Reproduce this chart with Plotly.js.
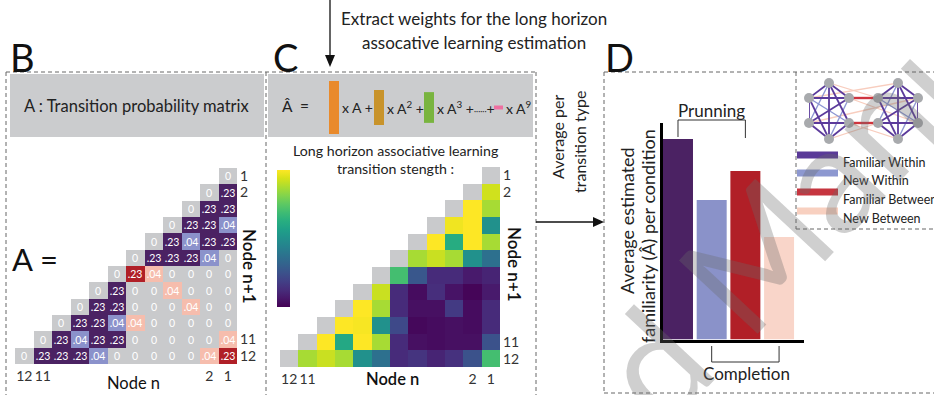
<!DOCTYPE html>
<html>
<head>
<meta charset="utf-8">
<script src="https://cdn.plot.ly/plotly-3.0.1.min.js"></script>
<style>
  html, body { margin: 0; padding: 0; background: #fff; }
  #fig { width: 934px; height: 395px; }
</style>
</head>
<body>
<div id="fig"></div>
<script>
// ---------------------------------------------------------------
// Data
// ---------------------------------------------------------------
const nodeIds   = [1, 2, 3, 4, 5, 6, 7, 8, 9, 10, 11, 12];
const community = [1, 1, 1, 1, 1, 1, 2, 2, 2, 2, 2, 2];

// One-step transition probabilities A (row = node n+1, column = node n),
// lower triangle only, column order node n = 1, 2, ...
const transitionProb = [
  [0],
  [0.23, 0],
  [0.23, 0.23, 0],
  [0.04, 0.23, 0.23, 0],
  [0.23, 0.23, 0.04, 0.23, 0],
  [0, 0.04, 0.23, 0.23, 0.23, 0],
  [0, 0, 0, 0, 0.04, 0.23, 0],
  [0, 0, 0, 0.04, 0, 0, 0.23, 0],
  [0, 0, 0.04, 0, 0, 0, 0.23, 0.23, 0],
  [0, 0, 0, 0, 0, 0.04, 0.04, 0.23, 0.23, 0],
  [0.04, 0, 0, 0, 0, 0, 0.23, 0.23, 0.04, 0.23, 0],
  [0.23, 0.04, 0, 0, 0, 0, 0, 0.04, 0.23, 0.23, 0.23, 0]
];

// Long-horizon associative strength (normalised), same layout, off-diagonal only
const longHorizonStrength = [
  [],
  [0.93],
  [0.87, 1.00],
  [0.50, 1.00, 0.98],
  [0.87, 1.00, 0.62, 1.00],
  [0.37, 0.50, 0.87, 0.92, 0.87],
  [0.10, 0.07, 0.12, 0.12, 0.27, 0.70],
  [0.07, 0.01, 0.05, 0.13, 0.03, 0.12, 0.92],
  [0.12, 0.03, 0.17, 0.04, 0.04, 0.12, 0.87, 1.00],
  [0.12, 0.03, 0.04, 0.03, 0.02, 0.22, 0.50, 0.99, 1.00],
  [0.25, 0.04, 0.04, 0.03, 0.04, 0.12, 0.87, 1.00, 0.60, 1.00],
  [0.70, 0.25, 0.14, 0.10, 0.15, 0.12, 0.37, 0.50, 0.87, 0.92, 0.87]
];

// Weights of the power series terms (A, A², A³, ..., A⁹)
const formulaWeights = [1.00, 0.66, 0.58, 0.075];
const formulaColors  = ['#E98A2C', '#C8932B', '#79B43F', '#EE6FA0'];

// Average estimated familiarity per transition type
const conditions     = ['Familiar Within', 'New Within', 'Familiar Between', 'New Between'];
const avgFamiliarity = [0.926, 0.644, 0.778, 0.473];
const barColors      = ['#4B2263', '#8A92C9', '#B11F27', '#F9D5C9'];

// Edge-type palette (matrix cells, network edges, legend swatches)
const GREY = '#C9CACC';
const cellColors  = [GREY, '#4B2263', '#8B92CB', '#B01F27', '#F6BDAD'];
const edgeColors  = ['#5B3A9B', '#8D97D3', '#CF343E', '#F8CDBE'];
const edgeWidths  = [1.8, 1.4, 2.4, 1.3];
const swatchColors = ['#5A3A98', '#8D98D0', '#C6353F', '#F8D0C0'];

// Network drawing positions (node 1..12)
const nodeX = [2, 1, 0, 0, 1, 2, 3.45, 4.45, 5.45, 5.45, 4.45, 3.45];
const nodeY = [0, -0.64, 0, 1, 1.6, 1, 1, 1.6, 1, 0, -0.64, 0];

// ---------------------------------------------------------------
// Helpers
// ---------------------------------------------------------------
const W = 934, H = 395;
const px = x => x / W;
const py = y => 1 - y / H;
const FONT = 'Lato, "Open Sans", sans-serif';
const N = nodeIds.length;

function pad(rows, fillDiag) {
  return rows.map((r, i) => {
    const out = new Array(N).fill(null);
    r.forEach((v, j) => { out[j] = v; });
    if (fillDiag !== undefined) out[i] = fillDiag;
    return out;
  });
}

// 0 = no transition, 1 = familiar within, 2 = new within, 3 = familiar between, 4 = new between
function edgeType(n, m, p) {
  if (p === null) return null;
  if (p === 0) return 0;
  const within = community[n - 1] === community[m - 1];
  const familiar = p > 0.1;
  if (within) return familiar ? 1 : 2;
  return familiar ? 3 : 4;
}

const probFull = pad(transitionProb);
const typeZ = probFull.map((row, i) => row.map((p, j) => edgeType(nodeIds[j], nodeIds[i], p)));
const probText = probFull.map(row => row.map(p => p === null ? null : (p === 0 ? '0' : String(p).replace(/^0/, ''))));

const discreteScale = [];
cellColors.forEach((c, k) => {
  discreteScale.push([k / cellColors.length, c]);
  discreteScale.push([(k + 1) / cellColors.length, c]);
});

const strengthFull = pad(longHorizonStrength);
const diagZ = nodeIds.map((_, i) => nodeIds.map((_, j) => i === j ? 1 : null));

// ---------------------------------------------------------------
// Traces
// ---------------------------------------------------------------
const traces = [];

// B : transition probability matrix
traces.push({
  type: 'heatmap', x: nodeIds, y: nodeIds, z: typeZ,
  zmin: -0.5, zmax: cellColors.length - 0.5,
  colorscale: discreteScale, showscale: false,
  text: probText, texttemplate: '%{text}',
  textfont: { family: FONT, size: 10.5, color: '#ffffff' },
  xaxis: 'x', yaxis: 'y', hoverinfo: 'skip'
});

// C : long horizon strength
traces.push({
  type: 'heatmap', x: nodeIds, y: nodeIds, z: diagZ,
  zmin: 0, zmax: 1, colorscale: [[0, GREY], [1, GREY]], showscale: false,
  xaxis: 'x2', yaxis: 'y2', hoverinfo: 'skip'
});
traces.push({
  type: 'heatmap', x: nodeIds, y: nodeIds, z: strengthFull,
  zmin: 0, zmax: 1, colorscale: 'Viridis',
  colorbar: {
    x: px(277), xanchor: 'left', y: py(170), yanchor: 'top',
    len: 137, lenmode: 'pixels', thickness: 13, thicknessmode: 'pixels',
    outlinewidth: 0, showticklabels: false, ticks: '', xpad: 0, ypad: 0
  },
  xaxis: 'x2', yaxis: 'y2', hoverinfo: 'skip'
});

// D : bar chart of average familiarity
traces.push({
  type: 'bar', x: [0, 1, 2, 3], y: avgFamiliarity, width: 0.89,
  marker: { color: barColors, line: { width: 0 } },
  xaxis: 'x3', yaxis: 'y3', hoverinfo: 'skip', showlegend: false
});

// D inset : modular graph, edges grouped by type
const edgeSets = [[], [], [], []];
probFull.forEach((row, i) => row.forEach((p, j) => {
  if (p === null || j >= i) return;
  const t = edgeType(nodeIds[j], nodeIds[i], p);
  if (t > 0) edgeSets[t - 1].push([j, i]);
}));
[3, 1, 2, 0].forEach(k => {
  const xs = [], ys = [];
  edgeSets[k].forEach(([a, b]) => { xs.push(nodeX[a], nodeX[b], null); ys.push(nodeY[a], nodeY[b], null); });
  traces.push({
    type: 'scatter', mode: 'lines', x: xs, y: ys,
    line: { color: edgeColors[k], width: edgeWidths[k] },
    xaxis: 'x4', yaxis: 'y4', hoverinfo: 'skip', showlegend: false, cliponaxis: false
  });
});
traces.push({
  type: 'scatter', mode: 'markers', x: nodeX, y: nodeY,
  marker: { size: 10, color: '#A8AAAD' },
  xaxis: 'x4', yaxis: 'y4', hoverinfo: 'skip', showlegend: false, cliponaxis: false
});

// ---------------------------------------------------------------
// Axes
// ---------------------------------------------------------------
const tickFont = { family: FONT, size: 14, color: '#333' };
function matrixAxes(x0, x1, y0, y1) {
  const xa = {
    domain: [px(x0), px(x1)], range: [12.5, 0.5], tickvals: [12, 11, 2, 1],
    ticktext: ['12', '11', '2', '1'], ticks: '', showgrid: false, zeroline: false,
    showline: false, tickfont: tickFont, ticklabelstandoff: 2
  };
  const ya = {
    domain: [py(y1), py(y0)], range: [12.5, 0.5], tickvals: [1, 2, 11, 12],
    ticktext: ['1', '2', '11', '12'], side: 'right', ticks: '', showgrid: false,
    zeroline: false, showline: false, tickfont: tickFont, ticklabelstandoff: 2
  };
  return [xa, ya];
}
const [xB, yB] = matrixAxes(15, 237, 168, 364);
const [xC, yC] = matrixAxes(280, 500, 167, 367);
xB.anchor = 'y'; yB.anchor = 'x';
xC.anchor = 'y2'; yC.anchor = 'x2';

const barRange = [-0.445, 3.74];
const barDom = [663, 804];
const xD = {
  domain: [px(barDom[0]), px(barDom[1])], range: barRange, anchor: 'y3',
  showticklabels: false, ticks: '', showgrid: false, zeroline: false,
  showline: true, linewidth: 3, linecolor: '#000'
};
const yD = {
  domain: [py(339.5), py(123)], range: [0, 1], anchor: 'x3',
  showticklabels: false, ticks: '', showgrid: false, zeroline: false,
  showline: true, linewidth: 3, linecolor: '#000'
};
const xN = { domain: [px(809), px(918)], range: [0, 5.45], visible: false, anchor: 'y4' };
const yN = { domain: [py(139), py(83)], range: [-0.64, 1.6], visible: false, anchor: 'x4' };

// pixel position of a bar centre along the D axis
const barPx = i => barDom[0] + (i - barRange[0]) / (barRange[1] - barRange[0]) * (barDom[1] - barDom[0]);

// ---------------------------------------------------------------
// Shapes
// ---------------------------------------------------------------
const shapes = [];
const rectPx = (x0, y0, x1, y1, fill, layer) => shapes.push({
  type: 'rect', xref: 'paper', yref: 'paper', x0: px(x0), x1: px(x1), y0: py(y1), y1: py(y0),
  fillcolor: fill, line: { width: 0 }, layer: layer || 'below'
});
const linePx = (x0, y0, x1, y1, color, width, dash) => shapes.push({
  type: 'line', xref: 'paper', yref: 'paper', x0: px(x0), x1: px(x1), y0: py(y0), y1: py(y1),
  line: { color: color, width: width, dash: dash || 'solid' }
});
const triPx = pts => shapes.push({
  type: 'path', xref: 'paper', yref: 'paper',
  path: 'M ' + pts.map(p => px(p[0]) + ',' + py(p[1])).join(' L ') + ' Z',
  fillcolor: '#111', line: { width: 0 }
});

// header bands
rectPx(10, 74, 264, 137, '#CBCCCE');
rectPx(268, 74, 533, 137, '#CBCCCE');

// dashed panel frames
const DASH = '4px,3px', DC = '#666';
linePx(6, 72, 536, 72, DC, 1, DASH);
linePx(6, 72, 6, 400, DC, 1, DASH);
linePx(266, 72, 266, 400, DC, 1, DASH);
linePx(536, 72, 536, 400, DC, 1, DASH);
linePx(604, 72, 940, 72, DC, 1, DASH);
linePx(604, 72, 604, 393, DC, 1, DASH);
linePx(604, 393, 940, 393, DC, 1, DASH);
linePx(796, 72, 796, 229, DC, 1, DASH);
linePx(796, 229, 940, 229, DC, 1, DASH);

// arrows
linePx(330, 0, 330, 56, '#111', 1.3);
triPx([[325, 55], [335, 55], [330, 67]]);
linePx(536, 222, 595, 222, '#111', 1.3);
triPx([[593, 217], [593, 227], [604, 222]]);

// weight bars in the power-series formula
const formulaX = [329, 374, 424, 494];
formulaWeights.forEach((w, k) => {
  const h = w * 53, cy = 107.5, bw = k === 3 ? 9 : 10;
  rectPx(formulaX[k], cy - h / 2, formulaX[k] + bw, cy + h / 2, formulaColors[k], 'above');
});

// brackets on the bar chart
const bx0 = barPx(0), bx2 = barPx(2), bx1 = barPx(1), bx3 = barPx(3);
linePx(bx0, 120, bx2, 120, '#333', 1);
linePx(bx0, 120, bx0, 137, '#333', 1);
linePx(bx2, 120, bx2, 138, '#333', 1);
linePx(bx1, 362, bx3, 362, '#333', 1);
linePx(bx1, 346, bx1, 362, '#333', 1);
linePx(bx3, 346, bx3, 362, '#333', 1);

// legend swatches
const swatchY = [155, 173, 192, 211];
swatchColors.forEach((c, k) => {
  rectPx(797, swatchY[k] - 3.5, 838, swatchY[k] + 3.5, c, 'above');
});

// ---------------------------------------------------------------
// Text
// ---------------------------------------------------------------
const annotations = [];
function ann(text, x, y, size, opts) {
  annotations.push(Object.assign({
    text: text, xref: 'paper', yref: 'paper', x: px(x), y: py(y),
    xanchor: 'center', yanchor: 'middle', showarrow: false,
    font: { family: FONT, size: size, color: '#222' }
  }, opts || {}));
}

ann('Extract weights for the long horizon', 474, 18, 17);
ann('assocative learning estimation', 474, 42, 17);

ann('B', 8, 57, 38, { xanchor: 'left', font: { family: FONT, size: 38, color: '#111' } });
ann('C', 271, 57, 38, { xanchor: 'left', font: { family: FONT, size: 38, color: '#111' } });
ann('D', 603, 57, 38, { xanchor: 'left', font: { family: FONT, size: 38, color: '#111' } });

ann('A : Transition probability matrix', 137, 106, 16.5);
ann('Â  =', 295, 106, 15.5);
ann('x A +', 340, 107, 14, { xanchor: 'left' });
ann('x A<sup>2</sup> +', 385, 107, 14, { xanchor: 'left' });
ann('x A<sup>3</sup> +<span style="font-size:8px">······</span>+', 435, 107, 14, { xanchor: 'left' });
ann('x A<sup>9</sup>', 504, 107, 14, { xanchor: 'left' });

ann('A =', 35, 259, 31, { font: { family: FONT, size: 31, color: '#111' } });

ann('Long horizon associative learning', 396, 150, 14.2);
ann('transition stength :', 395, 168, 14.2);

const titleFont = { family: FONT, size: 16.5, color: '#111' };
ann('Node n', 133, 383, 16.5, { font: titleFont });
ann('Node n', 392, 379, 16.5, { font: Object.assign({}, titleFont, { weight: 600 }) });
ann('Node n+1', 250, 266, 17, { textangle: 90, font: Object.assign({}, titleFont, { size: 17, weight: 600 }) });
ann('Node n+1', 515, 264, 17, { textangle: 90, font: Object.assign({}, titleFont, { size: 17, weight: 600 }) });

ann('Average per', 557, 137, 16, { textangle: -90 });
ann('transition type', 580, 142, 16, { textangle: -90 });

ann('Average estimated', 627, 221, 18, { textangle: -90 });
ann('familiarity (Â) per condition', 648, 236, 18, { textangle: -90 });

ann('Prunning', (bx0 + bx2) / 2, 111, 17);
ann('Completion', (bx1 + bx3) / 2 + 1, 373, 17);

conditions.forEach((c, k) => {
  ann(c, 841, swatchY[k] + 7, 12.5, { xanchor: 'left' });
});

// watermark
ann('Accepted Manuscript', 735, 273, 150, {
  textangle: -47,
  font: { family: FONT, size: 150, color: 'rgba(105,105,105,0.32)' }
});

// ---------------------------------------------------------------
// Layout
// ---------------------------------------------------------------
const layout = {
  width: W, height: H,
  margin: { l: 0, r: 0, t: 0, b: 0 },
  paper_bgcolor: '#fff', plot_bgcolor: 'rgba(0,0,0,0)',
  showlegend: false,
  font: { family: FONT },
  xaxis: xB, yaxis: yB,
  xaxis2: xC, yaxis2: yC,
  xaxis3: xD, yaxis3: yD,
  xaxis4: xN, yaxis4: yN,
  shapes: shapes,
  annotations: annotations
};

Plotly.newPlot('fig', traces, layout, { staticPlot: true, displayModeBar: false });
</script>
</body>
</html>
